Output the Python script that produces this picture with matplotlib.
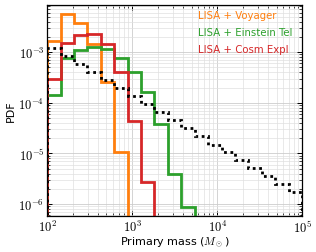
import numpy as np
import matplotlib
matplotlib.use('Agg')
import matplotlib.pyplot as plt
from matplotlib.ticker import FuncFormatter, LogLocator

plt.rcParams['mathtext.fontset'] = 'cm'
plt.rcParams['font.family'] = ['DejaVu Sans']

# 19 log-spaced bins between 1e2 and 1e5 Msun
bin_edges = np.logspace(2, 5, 20)

# values (PDF per bin)
prior_pdf = [1.2e-3, 8.3e-4, 5.8e-4, 4.0e-4, 2.8e-4, 1.95e-4, 1.35e-4, 9.4e-5,
             6.5e-5, 4.5e-5, 3.2e-5, 2.2e-5, 1.5e-5, 1.06e-5, 7.4e-6, 5.1e-6,
             3.6e-6, 2.5e-6, 1.75e-6]
voyager_pdf = [1.65e-3, 5.6e-3, 3.7e-3, 1.44e-3, 2.55e-4, 1.07e-5, 0, 0, 0, 0,
               0, 0, 0, 0, 0, 0, 0, 0, 0]
einstein_pdf = [1.4e-4, 7.6e-4, 1.1e-3, 1.24e-3, 1.15e-3, 7.8e-4, 4.05e-4,
                1.63e-4, 3.8e-5, 3.9e-6, 8.7e-7, 0, 0, 0, 0, 0, 0, 0, 0]
cosm_pdf = [2.9e-4, 1.52e-3, 2.2e-3, 2.3e-3, 1.44e-3, 4.1e-4, 4.4e-5, 2.7e-6,
            0, 0, 0, 0, 0, 0, 0, 0, 0, 0, 0]

labels = ['LISA + Voyager', 'LISA + Einstein Tel', 'LISA + Cosm Expl']
colors = ['#ff7f0e', '#2ca02c', '#d62728']


def main():
    fig = plt.figure(figsize=(3.16, 2.53), dpi=100)
    ax = fig.add_axes([0.149, 0.142, 0.807, 0.835])
    ax.set_xscale('log')
    ax.set_yscale('log')

    for vals, lab, col in zip([voyager_pdf, einstein_pdf, cosm_pdf], labels, colors):
        ax.stairs(vals, bin_edges, baseline=0, color=col, lw=2, label=lab)
    ax.stairs(prior_pdf, bin_edges, baseline=0, color='k', lw=2,
              linestyle=(0, (1, 1.3)))

    ax.set_xlim(1e2, 1e5)
    ax.set_ylim(5.8e-7, 8.6e-3)

    fmt = FuncFormatter(lambda v, p: r'$10^{%d}$' % round(np.log10(v)))
    ax.xaxis.set_major_formatter(fmt)
    ax.yaxis.set_major_formatter(fmt)
    ax.yaxis.set_major_locator(LogLocator(base=10, numticks=10))
    ax.yaxis.set_minor_locator(LogLocator(base=10, subs=np.arange(2, 10), numticks=20))
    ax.tick_params(which='both', direction='in', top=True, right=True,
                   labelsize=9, pad=2)
    ax.tick_params(which='major', length=3.5, width=0.7)
    ax.tick_params(which='minor', length=2, width=0.5)
    ax.grid(which='major', color='#cccccc', lw=0.6)
    ax.grid(which='minor', color='#e0e0e0', lw=0.5)
    ax.set_axisbelow(True)
    for s in ax.spines.values():
        s.set_linewidth(0.9)

    ax.set_xlabel(r'Primary mass ($M_\odot$)', fontsize=8, labelpad=0)
    ax.set_ylabel('PDF', fontsize=8, labelpad=2)

    leg = ax.legend(loc='upper right', bbox_to_anchor=(0.98, 1.0), frameon=False,
                    handlelength=0, handletextpad=0, fontsize=7.3,
                    labelcolor='linecolor', borderaxespad=0.1, labelspacing=0.7)
    for h in leg.legend_handles:
        h.set_visible(False)

    fig.savefig('out.png', dpi=100)


if __name__ == "__main__":
    main()
